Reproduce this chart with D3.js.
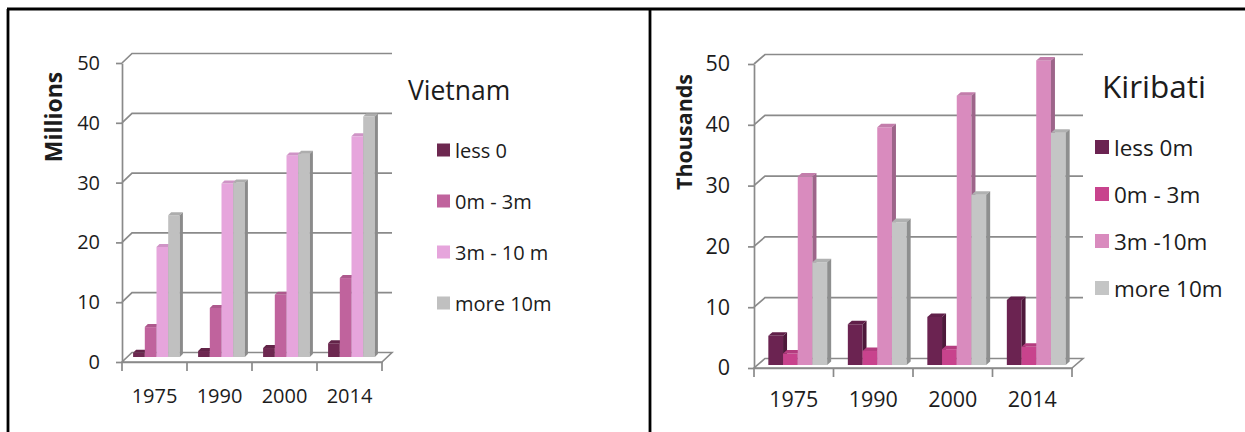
<!DOCTYPE html>
<html>
<head>
<meta charset="utf-8">
<script src="https://cdn.jsdelivr.net/npm/d3@7"></script>
<style>
  html, body { margin: 0; padding: 0; background: #fff; }
  svg { display: block; font-family: "Open Sans", Lato, sans-serif; }
</style>
</head>
<body>
<svg id="chart" width="1245" height="432"></svg>
<script>
// Population by elevation band, 1975-2014
const categories = ["1975", "1990", "2000", "2014"];
const yTicks = [0, 10, 20, 30, 40, 50];

// Vietnam (millions)
const vnSeries = ["less 0", "0m - 3m", "3m - 10 m", "more 10m"];
const vnLess0  = [0.7, 1.0, 1.5, 2.3];
const vn0to3   = [5.0, 8.2, 10.4, 13.2];
const vn3to10  = [18.4, 29.0, 33.7, 36.9];
const vnOver10 = [23.7, 29.2, 34.0, 40.2];

// Kiribati (thousands)
const kiSeries = ["less 0m", "0m - 3m", "3m -10m", "more 10m"];
const kiLess0  = [4.8, 6.7, 7.9, 10.7];
const ki0to3   = [1.9, 2.3, 2.6, 3.0];
const ki3to10  = [31.0, 39.1, 44.3, 50.1];
const kiOver10 = [16.9, 23.5, 28.0, 38.2];

const svg = d3.select("#chart");
const FONT = "Open Sans";
const TEXT = "#1c1c1c";

// outer frame and divider
const frame = svg.append("g").attr("stroke", "#000").attr("stroke-width", 2.8).attr("fill", "none");
frame.append("line").attr("x1", 7).attr("x2", 1245).attr("y1", 9).attr("y2", 9);
frame.append("line").attr("x1", 8).attr("x2", 8).attr("y1", 9).attr("y2", 432);
frame.append("line").attr("x1", 650).attr("x2", 650).attr("y1", 9).attr("y2", 432);

function drawChart(cfg) {
  const g = svg.append("g");
  const x = d3.scaleBand().domain(categories).range([cfg.x0, cfg.x1]).padding(0);
  const y = d3.scaleLinear().domain([0, 50]).range([cfg.y0, cfg.y1]);
  const series = cfg.series.map((name, i) => ({ name, values: cfg.values[i], color: cfg.colors[i] }));
  const gridColor = "#8a8a8a";

  // floor
  g.append("path")
    .attr("d", `M${cfg.x0},${y(0)}L${cfg.x1},${y(0)}L${cfg.x1 + cfg.dx},${y(0) - cfg.dy}L${cfg.x0 + cfg.dx},${y(0) - cfg.dy}Z`)
    .attr("fill", "#fff").attr("stroke", gridColor).attr("stroke-width", 1.6);

  // back-wall gridlines with their side-wall connectors
  const grid = g.append("g").attr("stroke", gridColor).attr("stroke-width", 1.7).attr("fill", "none");
  yTicks.forEach(v => {
    if (v === 0) return;
    grid.append("path")
      .attr("d", `M${cfg.x0},${y(v)}L${cfg.x0 + cfg.dx},${y(v) - cfg.dy}L${cfg.x1 + cfg.dx},${y(v) - cfg.dy}`);
  });

  // front value axis
  const yAxis = g.append("g")
    .attr("transform", `translate(${cfg.x0},0)`)
    .call(d3.axisLeft(y).tickValues(yTicks).tickSize(6).tickSizeOuter(0).tickPadding(cfg.labelPad).tickFormat(d3.format("d")));
  yAxis.selectAll("path, line").attr("stroke", gridColor).attr("stroke-width", 1.7);
  yAxis.selectAll("text").attr("font-size", cfg.tickFont).attr("fill", TEXT).attr("font-family", FONT);

  // category axis labels and boundary ticks
  const xAxis = g.append("g")
    .attr("transform", `translate(0,${cfg.y0})`)
    .call(d3.axisBottom(x).tickSize(0).tickPadding(cfg.xLabelPad));
  xAxis.select(".domain").attr("stroke", gridColor).attr("stroke-width", 1.7);
  xAxis.selectAll("text").attr("font-size", cfg.tickFont).attr("fill", TEXT).attr("font-family", FONT);
  const bounds = categories.map(c => x(c)).concat([cfg.x1]);
  g.append("g").selectAll("line").data(bounds).join("line")
    .attr("x1", d => d).attr("x2", d => d)
    .attr("y1", y(0)).attr("y2", y(0) + 9)
    .attr("stroke", gridColor).attr("stroke-width", 1.7);

  // bars: front face, top face, side face; drawn left to right so neighbours hide side faces
  const groupW = x.bandwidth() * cfg.groupFrac;
  const inner = d3.scaleBand().domain(series.map(s => s.name)).range([0, groupW]).padding(0);
  const bars = g.append("g");
  categories.forEach((c, ci) => {
    const gx = x(c) + (x.bandwidth() - groupW) / 2 + cfg.groupShift;
    series.forEach(s => {
      const bx = gx + inner(s.name);
      const bw = inner.bandwidth();
      const yb = y(0) - cfg.baseShift;
      const yt = y(s.values[ci]) - cfg.baseShift;
      const c0 = d3.color(s.color);
      bars.append("rect").attr("x", bx).attr("y", yt).attr("width", bw).attr("height", yb - yt)
        .attr("fill", c0);
      bars.append("path")
        .attr("d", `M${bx},${yt}L${bx + bw},${yt}L${bx + bw + cfg.bdx},${yt - cfg.bdy}L${bx + cfg.bdx},${yt - cfg.bdy}Z`)
        .attr("fill", c0.darker(0.3));
      bars.append("path")
        .attr("d", `M${bx + bw},${yt}L${bx + bw + cfg.bdx},${yt - cfg.bdy}L${bx + bw + cfg.bdx},${yb - cfg.bdy}L${bx + bw},${yb}Z`)
        .attr("fill", c0.darker(0.9));
    });
  });

  // axis title
  g.append("text")
    .attr("transform", `translate(${cfg.titleX},${cfg.titleY}) rotate(-90)`)
    .attr("text-anchor", "middle").attr("dominant-baseline", "central")
    .attr("font-size", cfg.titleFont).attr("font-weight", "bold").attr("fill", TEXT)
    .text(cfg.axisTitle);

  // legend
  const lg = g.append("g");
  lg.append("text").attr("x", cfg.legTitleX).attr("y", cfg.legTitleY)
    .attr("font-size", cfg.legTitleFont).attr("fill", TEXT).text(cfg.country);
  series.forEach((s, i) => {
    const cy = cfg.legY0 + i * cfg.legStep;
    lg.append("rect").attr("x", cfg.legX).attr("y", cy - cfg.sw / 2).attr("width", cfg.sw).attr("height", cfg.sw)
      .attr("fill", s.color);
    lg.append("text").attr("x", cfg.legX + cfg.sw + 5).attr("y", cy)
      .attr("dominant-baseline", "central").attr("font-size", cfg.legFont).attr("fill", TEXT)
      .text(s.name);
  });
}

drawChart({
  country: "Vietnam", axisTitle: "Millions",
  series: vnSeries, values: [vnLess0, vn0to3, vn3to10, vnOver10],
  colors: ["#6d2850", "#c0639d", "#e6a5dc", "#c0c0c0"],
  x0: 122, x1: 382, y0: 362, y1: 63, dx: 10, dy: 9.5, bdx: 3, bdy: 3,
  groupFrac: 0.72, groupShift: 2, baseShift: 5,
  tickFont: 20, labelPad: 16, xLabelPad: 27,
  titleX: 53, titleY: 117, titleFont: 23,
  legTitleX: 408, legTitleY: 100, legTitleFont: 26.5,
  legX: 437, legY0: 150, legStep: 51, sw: 13, legFont: 20
});

drawChart({
  country: "Kiribati", axisTitle: "Thousands",
  series: kiSeries, values: [kiLess0, ki0to3, ki3to10, kiOver10],
  colors: ["#6b2351", "#c8438d", "#d98bbe", "#c4c5c5"],
  x0: 754, x1: 1072, y0: 368, y1: 64, dx: 11, dy: 9.5, bdx: 4, bdy: 3.5,
  groupFrac: 0.74, groupShift: 4, baseShift: 3,
  tickFont: 21.5, labelPad: 18, xLabelPad: 24,
  titleX: 683, titleY: 132, titleFont: 21.5,
  legTitleX: 1102, legTitleY: 98, legTitleFont: 31.5,
  legX: 1095, legY0: 147, legStep: 47, sw: 14, legFont: 22.5
});
</script>
</body>
</html>
